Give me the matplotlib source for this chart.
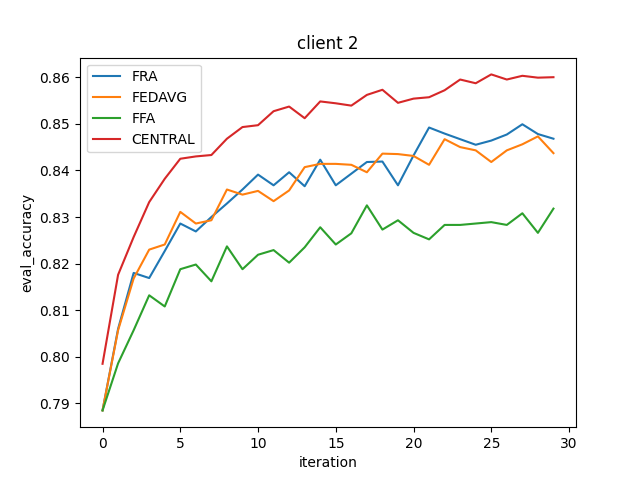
import matplotlib
matplotlib.use("Agg")
import matplotlib.pyplot as plt
import numpy as np

iterations = np.arange(30)

fra = [0.7885, 0.8060, 0.8180, 0.8169, 0.8227, 0.8286, 0.8269, 0.8300, 0.8329, 0.8359,
       0.8391, 0.8368, 0.8396, 0.8366, 0.8423, 0.8368, 0.8393, 0.8418, 0.8419, 0.8368,
       0.8432, 0.8492, 0.8479, 0.8467, 0.8455, 0.8464, 0.8477, 0.8499, 0.8478, 0.8468]
fedavg = [0.7885, 0.8057, 0.8168, 0.8230, 0.8241, 0.8311, 0.8286, 0.8293, 0.8359, 0.8348,
          0.8356, 0.8334, 0.8357, 0.8407, 0.8414, 0.8414, 0.8412, 0.8396, 0.8436, 0.8435,
          0.8431, 0.8412, 0.8467, 0.8450, 0.8443, 0.8418, 0.8443, 0.8456, 0.8473, 0.8437]
ffa = [0.7885, 0.7986, 0.8057, 0.8132, 0.8108, 0.8188, 0.8198, 0.8162, 0.8237, 0.8188,
       0.8219, 0.8229, 0.8202, 0.8235, 0.8278, 0.8241, 0.8265, 0.8325, 0.8273, 0.8293,
       0.8266, 0.8252, 0.8283, 0.8283, 0.8286, 0.8289, 0.8283, 0.8308, 0.8266, 0.8318]
central = [0.7985, 0.8176, 0.8257, 0.8332, 0.8382, 0.8425, 0.8430, 0.8433, 0.8468, 0.8493,
           0.8497, 0.8527, 0.8537, 0.8512, 0.8548, 0.8544, 0.8539, 0.8562, 0.8573, 0.8545,
           0.8554, 0.8557, 0.8572, 0.8595, 0.8587, 0.8606, 0.8595, 0.8603, 0.8599, 0.8600]

series = [("FRA", fra), ("FEDAVG", fedavg), ("FFA", ffa), ("CENTRAL", central)]

fig, ax = plt.subplots(figsize=(6.4, 4.8), dpi=100)
for name, vals in series:
    ax.plot(iterations, vals, label=name)
ax.set_title("client 2")
ax.set_xlabel("iteration")
ax.set_ylabel("eval_accuracy")
ax.legend(loc="upper left")
fig.savefig("out.png")
